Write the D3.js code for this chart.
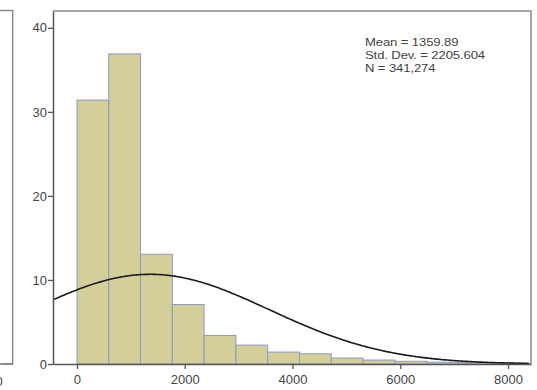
<!DOCTYPE html>
<html>
<head>
<meta charset="utf-8">
<script src="https://cdn.jsdelivr.net/npm/d3@7"></script>
<style>
  html, body { margin: 0; padding: 0; background: #fff; }
  svg { display: block; }
  text { font-family: "Liberation Sans", Arial, sans-serif; fill: #444; }
</style>
</head>
<body>
<svg id="chart" width="537" height="390"></svg>
<script>
// histogram — percent of cases per bin
const binStart = 0
const binWidth = 590
const binPercents = [31.4, 36.9, 13.05, 7.08, 3.4, 2.25, 1.42, 1.22, 0.71, 0.47, 0.32, 0.22, 0.16, 0.12]

const xTicks = [0, 2000, 4000, 6000, 8000]
const yTicks = [0, 10, 20, 30, 40]

const statsLines = ['Mean = 1359.89', 'Std. Dev. = 2205.604', 'N = 341,274']
const mean = 1359.89
const stdDev = 2205.604

const plot = { left: 53, right: 531, top: 11, bottom: 364 }

const svg = d3.select('#chart')

// Left (cut-off) panel frame
const lp = svg.append('g').attr('class', 'left-panel')
lp.append('path')
  .attr('d', `M0,10.5 H12.7 V${plot.bottom}`)
  .attr('fill', 'none').attr('stroke', '#8a8a8a').attr('stroke-width', 1.4)
lp.append('line')
  .attr('x1', 0).attr('x2', 13).attr('y1', plot.bottom).attr('y2', plot.bottom)
  .attr('stroke', '#555').attr('stroke-width', 1.4)
lp.append('line')
  .attr('x1', 0).attr('x2', 3).attr('y1', plot.bottom - 0.5).attr('y2', plot.bottom - 0.5)
  .attr('stroke', '#8b9bc4').attr('stroke-width', 1)
lp.append('text')
  .attr('x', -1).attr('y', 386)
  .attr('text-anchor', 'middle').attr('font-size', 13)
  .text('0')

// Scales
const x = d3.scaleLinear().domain([-445, 8427]).range([plot.left, plot.right])
const y = d3.scaleLinear().domain([0, 42]).range([plot.bottom, plot.top])

const bins = binPercents.map((v, i) => ({
  x0: binStart + i * binWidth,
  x1: binStart + (i + 1) * binWidth,
  value: v
}))

// Frame (top + right)
svg.append('path')
  .attr('d', `M${plot.left},${plot.top} H${plot.right} V${plot.bottom}`)
  .attr('fill', 'none').attr('stroke', '#8a8a8a').attr('stroke-width', 1.5)

// Bars
svg.append('g').attr('class', 'bars')
  .selectAll('rect')
  .data(bins)
  .join('rect')
  .attr('x', d => x(d.x0))
  .attr('y', d => y(d.value))
  .attr('width', d => x(d.x1) - x(d.x0))
  .attr('height', d => y(0) - y(d.value))
  .attr('fill', '#d4cf98')
  .attr('stroke', '#8b9bc4')
  .attr('stroke-width', 1)

// Normal curve from mean / std dev, scaled to percent per bin
const normal = v => 100 * binWidth / (stdDev * Math.sqrt(2 * Math.PI)) *
  Math.exp(-0.5 * Math.pow((v - mean) / stdDev, 2))
const curveX = d3.range(x.domain()[0], x.domain()[1] + 1, 40)
svg.append('path')
  .datum(curveX)
  .attr('fill', 'none')
  .attr('stroke', '#1a1a1a')
  .attr('stroke-width', 1.6)
  .attr('d', d3.line().x(d => x(d)).y(d => y(normal(d))).curve(d3.curveBasis))

// Axes
const xAxis = svg.append('g')
  .attr('transform', `translate(0,${plot.bottom})`)
  .call(d3.axisBottom(x).tickValues(xTicks).tickFormat(d3.format('d')).tickSize(5).tickSizeOuter(0))
xAxis.select('.domain').attr('stroke', '#555').attr('stroke-width', 1.5)
xAxis.selectAll('.tick line').attr('stroke', '#555').attr('stroke-width', 1.3)
xAxis.selectAll('.tick text')
  .attr('font-size', 13).attr('font-family', '"Liberation Sans", Arial, sans-serif')
  .attr('fill', '#444').attr('dy', '0.9em')

const yAxis = svg.append('g')
  .attr('transform', `translate(${plot.left},0)`)
  .call(d3.axisLeft(y).tickValues(yTicks).tickSize(5).tickSizeOuter(0))
yAxis.select('.domain').attr('stroke', '#555').attr('stroke-width', 1.5)
yAxis.selectAll('.tick line').attr('stroke', '#555').attr('stroke-width', 1.3)
yAxis.selectAll('.tick text')
  .attr('font-size', 13).attr('font-family', '"Liberation Sans", Arial, sans-serif')
  .attr('fill', '#444').attr('x', -6)

// Stats box (stretched horizontally like the source)
svg.append('g')
  .attr('transform', 'translate(365,0) scale(1.17,1)')
  .selectAll('text')
  .data(statsLines)
  .join('text')
  .attr('x', 0)
  .attr('y', (d, i) => 46 + i * 12.8)
  .attr('font-size', 11.2)
  .attr('letter-spacing', -0.1)
  .text(d => d)
</script>
</body>
</html>
